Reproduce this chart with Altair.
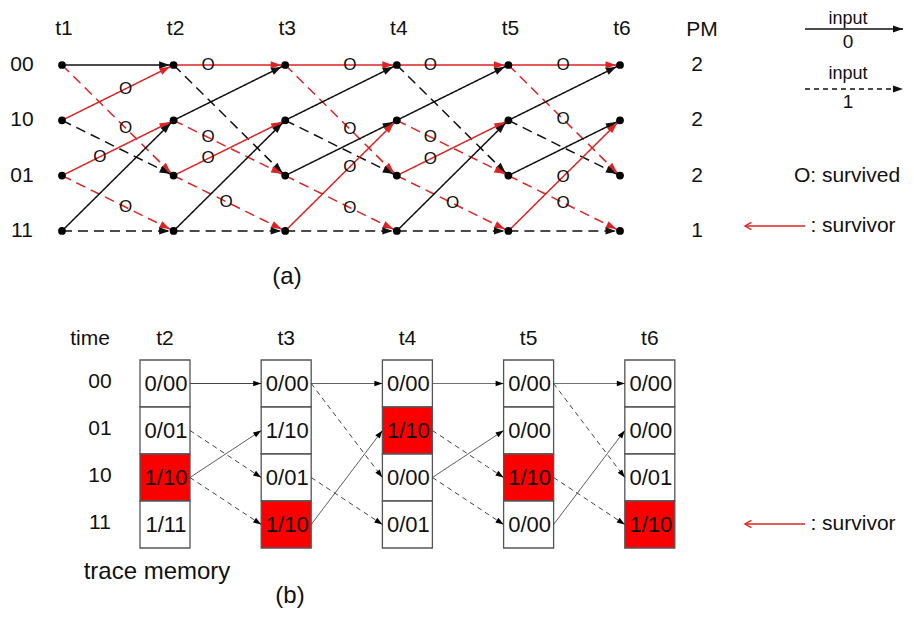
import math
import altair as alt
import pandas as pd

# ---------------- data ----------------
times = ["t1", "t2", "t3", "t4", "t5", "t6"]
states = ["00", "10", "01", "11"]
path_metric = ["2", "2", "2", "1"]
# trellis branches (row index of from-state, row index of to-state, input bit)
edge_from = [0, 0, 1, 1, 2, 2, 3, 3]
edge_to = [0, 2, 0, 2, 1, 3, 1, 3]
edge_input = [0, 1, 0, 1, 0, 1, 0, 1]
# 1 = survivor branch (red, marked "O") for each step t(k) -> t(k+1)
survivor = [
    [0, 1, 1, 0, 1, 1, 0, 0],
    [1, 0, 0, 1, 1, 1, 0, 0],
    [1, 1, 0, 0, 0, 1, 1, 0],
    [1, 0, 0, 1, 1, 1, 0, 0],
    [1, 1, 0, 0, 0, 1, 1, 0],
]
# trace memory
mem_times = ["t2", "t3", "t4", "t5", "t6"]
mem_rows = ["00", "01", "10", "11"]
mem_values = [
    ["0/00", "0/01", "1/10", "1/11"],
    ["0/00", "1/10", "0/01", "1/10"],
    ["0/00", "1/10", "0/00", "0/01"],
    ["0/00", "0/00", "1/10", "0/00"],
    ["0/00", "0/00", "0/01", "1/10"],
]
mem_highlight = [2, 3, 1, 2, 3]
# trace links between memory columns: (from_row, to_row, input bit)
mem_links = [
    [(0, 0, 0), (1, 2, 1), (2, 1, 0), (2, 3, 1)],
    [(0, 0, 0), (0, 2, 1), (2, 3, 1), (3, 1, 0)],
    [(0, 0, 0), (1, 2, 1), (2, 1, 0), (2, 3, 1)],
    [(0, 0, 0), (0, 2, 1), (2, 3, 1), (3, 1, 0)],
]

# ---------------- layout / style ----------------
W, H = 896, 600
TX0, TDX = 62, 111.6
TY0, TDY = 65, 55.3
O_FRAC = [
    [.57, .57, .57, .57, .34, .57, .57, .57],
    [.31, .31, .31, .31, .31, .47, .31, .31],
    [.58, .58, .58, .58, .58, .58, .58, .58],
    [.30, .30, .30, .30, .30, .50, .30, .30],
    [.49, .49, .49, .49, .49, .49, .49, .49],
]
BX0, BDX, BW = 140, 121.2, 50
BY0, BH = 360, 47
RED_LINE = "#dc2424"
RED_FILL = "#fa0000"
FONT = "Liberation Sans"

lines, heads, marks_o, texts = [], [], [], []


def add_arrow(x1, y1, x2, y2, color, dash, width, back, hsize, hcolor):
    lines.append(dict(x=x1, y=y1, x2=x2, y2=y2, color=color, dash=dash, w=width))
    dx, dy = x2 - x1, y2 - y1
    L = math.hypot(dx, dy)
    ang = math.degrees(math.atan2(dy, dx)) % 360
    heads.append(dict(x=x2 - back * dx / L, y=y2 - back * dy / L, ang=ang,
                      color=hcolor, s=hsize))


def tx(i):
    return TX0 + i * TDX


def ty(r):
    return TY0 + r * TDY


# trellis
for k in range(5):
    for e in range(8):
        x1, y1 = tx(k), ty(edge_from[e])
        x2, y2 = tx(k + 1), ty(edge_to[e])
        red = survivor[k][e] == 1
        col = RED_LINE if red else "#111111"
        add_arrow(x1, y1, x2, y2, col, "dash" if edge_input[e] else "solid",
                  1.5, 4, 110, col)
        if red:
            f = O_FRAC[k][e]
            marks_o.append(dict(x=x1 + f * (x2 - x1), y=y1 + f * (y2 - y1)))

nodes = [dict(x=tx(i), y=ty(r)) for i in range(6) for r in range(4)]

for i, t in enumerate(times):
    texts.append(dict(x=tx(i) + 2, y=29, t=t, fs=21))
for r, s in enumerate(states):
    texts.append(dict(x=22, y=ty(r), t=s, fs=21))
    texts.append(dict(x=697, y=ty(r), t=path_metric[r], fs=21))
texts.append(dict(x=702, y=30, t="PM", fs=21))

# legend (top right)
add_arrow(805, 29, 903, 29, "#111111", "solid", 1.3, 0, 100, "#111111")
add_arrow(805, 89, 903, 89, "#111111", "fine", 1.3, 0, 100, "#111111")
texts += [
    dict(x=848, y=19, t="input", fs=18),
    dict(x=848, y=42, t="0", fs=19),
    dict(x=848, y=74, t="input", fs=18),
    dict(x=848, y=102, t="1", fs=19),
    dict(x=847, y=176, t="O: survived", fs=21),
    dict(x=853, y=226, t=": survivor", fs=21),
    dict(x=287, y=277, t="(a)", fs=24),
]
survivor_legend = [dict(x=745, y=226, x2=805), dict(x=745, y=524, x2=805)]

# trace memory boxes
cells = []
for c in range(5):
    for r in range(4):
        cells.append(dict(x=BX0 + c * BDX, x2=BX0 + c * BDX + BW,
                          y=BY0 + r * BH, y2=BY0 + (r + 1) * BH,
                          fill=RED_FILL if mem_highlight[c] == r else "#ffffff"))
        texts.append(dict(x=BX0 + c * BDX + BW / 2 + 1, y=BY0 + (r + 0.5) * BH,
                          t=mem_values[c][r], fs=22))
    texts.append(dict(x=BX0 + c * BDX + BW / 2, y=339, t=mem_times[c], fs=21))
for r, s in enumerate(mem_rows):
    texts.append(dict(x=100, y=BY0 + (r + 0.5) * BH - 2, t=s, fs=21))
texts += [
    dict(x=90, y=339, t="time", fs=21),
    dict(x=157, y=572, t="trace memory", fs=24),
    dict(x=290, y=596, t="(b)", fs=24),
    dict(x=853, y=524, t=": survivor", fs=21),
]
for c in range(4):
    for (a, b, inp) in mem_links[c]:
        add_arrow(BX0 + c * BDX + BW, BY0 + (a + 0.5) * BH,
                  BX0 + (c + 1) * BDX, BY0 + (b + 0.5) * BH,
                  "#444444", "fine" if inp else "solid", 1.0, 0, 64, "#000000")

# ---------------- chart ----------------
X = lambda f="x": alt.X(f"{f}:Q", scale=alt.Scale(domain=[8, 8 + W], nice=False, zero=False), axis=None)
Y = lambda f="y": alt.Y(f"{f}:Q", scale=alt.Scale(domain=[8, 8 + H], nice=False, zero=False, reverse=True), axis=None)

line_layer = alt.Chart(pd.DataFrame(lines)).mark_rule().encode(
    x=X(), y=Y(), x2="x2:Q", y2="y2:Q",
    color=alt.Color("color:N", scale=None),
    strokeWidth=alt.StrokeWidth("w:Q", scale=None),
    strokeDash=alt.StrokeDash("dash:N", scale=alt.Scale(
        domain=["solid", "dash", "fine"], range=[[1, 0], [10, 6], [5, 4]]), legend=None),
)

head_layer = alt.Chart(pd.DataFrame(heads)).mark_point(
    shape="M0,0L-2,-0.7L-2,0.7Z", filled=True, opacity=1, strokeWidth=0
).encode(
    x=X(), y=Y(),
    angle=alt.Angle("ang:Q", scale=None),
    color=alt.Color("color:N", scale=None),
    size=alt.Size("s:Q", scale=None),
)

o_layer = alt.Chart(pd.DataFrame(marks_o)).mark_text(
    text="O", font=FONT, fontSize=17, color="#111111", baseline="middle", align="center"
).encode(x=X(), y=Y())

node_layer = alt.Chart(pd.DataFrame(nodes)).mark_circle(
    size=60, color="#000000", opacity=1
).encode(x=X(), y=Y())

cell_layer = alt.Chart(pd.DataFrame(cells)).mark_rect(
    stroke="#555555", strokeWidth=1.3
).encode(x=X(), x2="x2:Q", y=Y(), y2="y2:Q", fill=alt.Fill("fill:N", scale=None))

surv_df = pd.DataFrame(survivor_legend)
surv_line = alt.Chart(surv_df).mark_rule(color=RED_LINE, strokeWidth=1.4).encode(
    x=X(), x2="x2:Q", y=Y())
surv_head = alt.Chart(surv_df).mark_point(
    shape="M1.6,-0.9L0,0L1.6,0.9", filled=False, color=RED_LINE, strokeWidth=1.4,
    size=64, opacity=1
).encode(x=X(), y=Y())

text_layer = alt.Chart(pd.DataFrame(texts)).mark_text(
    font=FONT, align="center", baseline="middle", color="#111111"
).encode(x=X(), y=Y(), text="t:N", size=alt.Size("fs:Q", scale=None))

chart = alt.layer(
    cell_layer, line_layer, o_layer, head_layer, node_layer,
    surv_line, surv_head, text_layer
).properties(
    width=W, height=H, padding=0, autosize=alt.AutoSizeParams(type="none")
).configure_view(stroke=None)

chart.save("out.html", embed_options={"renderer": "svg", "actions": False})
